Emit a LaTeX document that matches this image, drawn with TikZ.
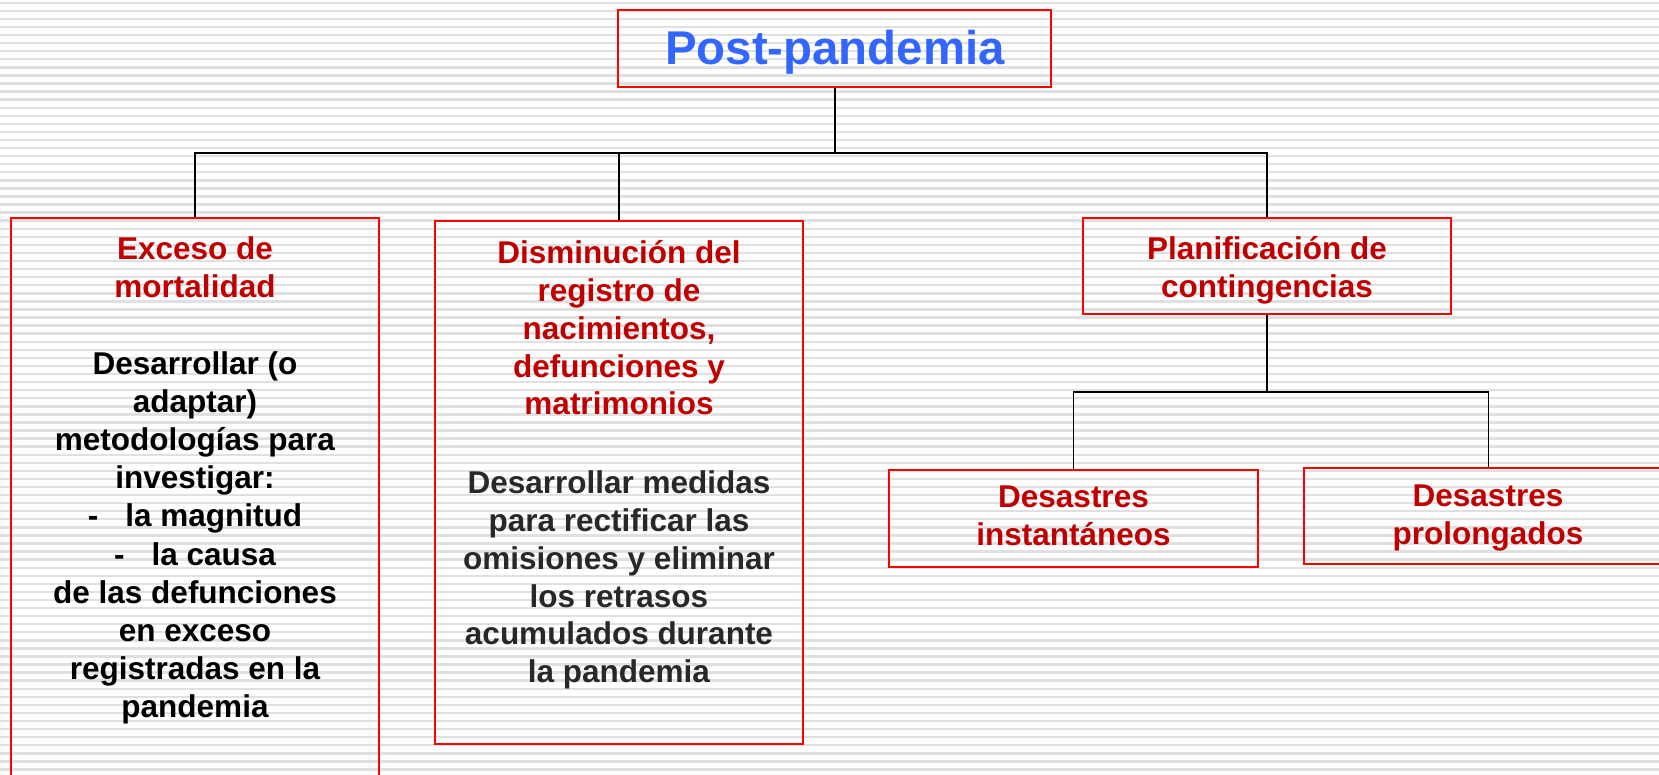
\documentclass[tikz,border=0pt]{standalone}
\usepackage{fontspec}
\setmainfont{Liberation Sans}
\definecolor{boxred}{RGB}{255,0,0}
\definecolor{titlered}{RGB}{192,0,0}
\definecolor{postblue}{RGB}{51,102,255}
\definecolor{bodygray}{RGB}{40,40,40}
\definecolor{stripegray}{RGB}{224,224,224}
\begin{document}
\begin{tikzpicture}[x=1pt,y=-1pt,
  box/.style={draw=boxred,line width=1.8pt,inner sep=0pt},
  txt/.style={inner sep=0pt,align=center,font=\fontsize{31.5}{38.2}\selectfont\bfseries},
  conn/.style={line width=2pt,black},
  subconn/.style={line width=1.6pt,black}]
\useasboundingbox (0,0) rectangle (1659,775);
\clip (0,0) rectangle (1659,775);
\fill[white] (0,0) rectangle (1659,775);
\foreach \i in {0,...,96}{\draw[stripegray,line width=2.4pt] (0,{2.8+\i*8.07}) -- (1659,{2.8+\i*8.07});}

% boxes
\node[box,minimum width=433pt,minimum height=77pt] (post) at (834.5,48.5) {};
\node[box,minimum width=368pt,minimum height=582pt] (exceso) at (195,509) {};
\node[box,minimum width=368pt,minimum height=523pt] (dism) at (619,482.5) {};
\node[box,minimum width=368pt,minimum height=96pt] (plan) at (1267,266) {};
\node[box,minimum width=369pt,minimum height=97pt] (inst) at (1073.5,518.5) {};
\node[box,minimum width=369pt,minimum height=96pt] (prol) at (1488.5,516) {};

% connectors
\coordinate (hub) at (834.5,153);
\draw[conn] (post.south) -- (hub);
\draw[conn] (hub) -| (exceso.north);
\draw[conn] (hub) -| (dism.north);
\draw[conn] (hub) -| (plan.north);
\coordinate (hub2) at (1267,392);
\draw[subconn] (plan.south) -- (hub2);
\draw[subconn] (hub2) -| (inst.north);
\draw[subconn] (hub2) -| (prol.north);

% texts
\node[txt,anchor=base,text=postblue,font=\fontsize{47.4}{56}\selectfont\bfseries] (posttxt) at (835,65) {Post-pandemia};
\node[txt,anchor=north] (excesotxt) at (195,236.4) {\textcolor{titlered}{Exceso de}\\\textcolor{titlered}{mortalidad}\\[38.2pt]Desarrollar (o\\adaptar)\\metodologías para\\investigar:\\-\hspace{27pt}la magnitud\\-\hspace{27pt}la causa\\de las defunciones\\en exceso\\registradas en la\\pandemia};
\node[txt,anchor=north,text=bodygray,font=\fontsize{31.5}{37.8}\selectfont\bfseries] (dismtxt) at (619,240.4) {\textcolor{titlered}{Disminución del}\\\textcolor{titlered}{registro de}\\\textcolor{titlered}{nacimientos,}\\\textcolor{titlered}{defunciones y}\\\textcolor{titlered}{matrimonios}\\[41pt]Desarrollar medidas\\para rectificar las\\omisiones y eliminar\\los retrasos\\acumulados durante\\la pandemia};
\node[txt,anchor=north,text=titlered] (plantxt) at (1267,236.4) {Planificación de\\contingencias};
\node[txt,anchor=north,text=titlered] (insttxt) at (1073.5,485.4) {Desastres\\instantáneos};
\node[txt,anchor=north,text=titlered] (proltxt) at (1488,484.4) {Desastres\\prolongados};
\end{tikzpicture}
\end{document}
